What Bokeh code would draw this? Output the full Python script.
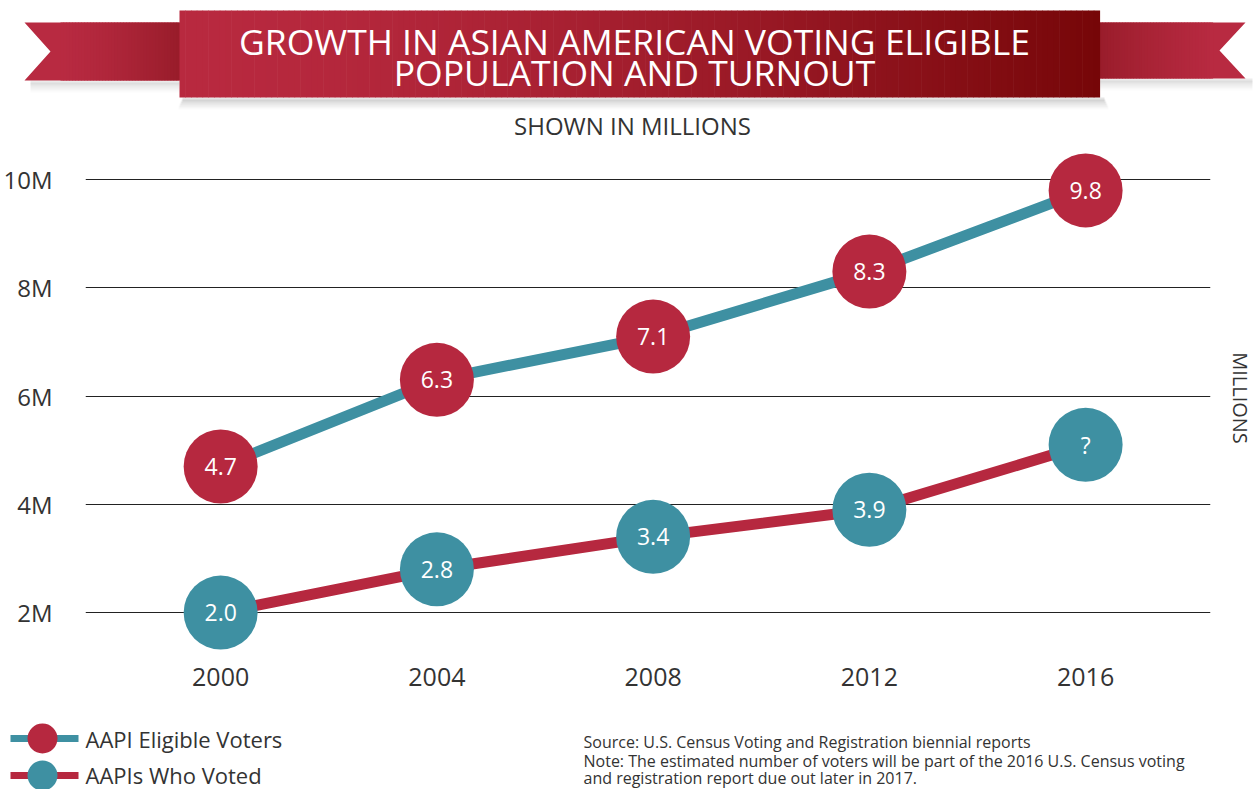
from bokeh.plotting import figure
from bokeh.layouts import column
from bokeh.models import Range1d, FixedTicker, LinearAxis, ColumnDataSource
from bokeh.core.properties import value
from bokeh.embed import file_html
from bokeh.resources import INLINE

# ---------------- data ----------------
years = [2000, 2004, 2008, 2012, 2016]
eligible = [4.7, 6.3, 7.1, 8.3, 9.8]
eligible_labels = ["4.7", "6.3", "7.1", "8.3", "9.8"]
voted = [2.0, 2.8, 3.4, 3.9, 5.1]          # 2016 value not yet published: drawn at ~5.1
voted_labels = ["2.0", "2.8", "3.4", "3.9", "?"]
y_ticks = [2, 4, 6, 8, 10]
y_tick_labels = ["2M", "4M", "6M", "8M", "10M"]
title_lines = ["GROWTH IN ASIAN AMERICAN VOTING ELIGIBLE", "POPULATION AND TURNOUT"]
subtitle = "SHOWN IN MILLIONS"
legend_labels = ["AAPI Eligible Voters", "AAPIs Who Voted"]
notes = ["Source: U.S. Census Voting and Registration biennial reports",
         "Note: The estimated number of voters will be part of the 2016 U.S. Census voting",
         "and registration report due out later in 2017."]

CRIMSON = "#b6283f"
TEAL = "#3e90a2"
DARK = "#760608"
TEXT = "#333333"
FONT = value("Open Sans")
W = 1258


def hex2rgb(h):
    h = h.lstrip("#")
    return tuple(int(h[i:i + 2], 16) for i in (0, 2, 4))


def lerp(c1, c2, t):
    a, b = hex2rgb(c1), hex2rgb(c2)
    return "#%02x%02x%02x" % tuple(int(round(a[i] + (b[i] - a[i]) * t)) for i in range(3))


def gradient_strips(p, x0, x1, y0, y1, c0, c1, n, power=1.0):
    lefts, rights, cols = [], [], []
    for i in range(n):
        a = x0 + (x1 - x0) * i / n
        b = x0 + (x1 - x0) * (i + 1) / n + 0.6
        t = ((i + 0.5) / n) ** power
        lefts.append(a)
        rights.append(b)
        cols.append(lerp(c0, c1, t))
    p.quad(left=lefts, right=rights, top=[y0] * n, bottom=[y1] * n, fill_color=cols, line_color=None)


def no_align(fig):
    try:
        fig.frame_align = False
    except Exception:
        pass


# ---------------- top banner figure (picture coordinates) ----------------
top = figure(width=W, height=145, x_range=Range1d(0, W), y_range=Range1d(145, 0),
             output_backend="svg", toolbar_location=None, min_border=0)
no_align(top)
top.axis.visible = False
top.grid.visible = False
top.outline_line_color = None

# soft shadows
for k, a in enumerate([0.10, 0.07, 0.05, 0.035, 0.02]):
    top.quad(left=[182 - k], right=[1104 + k], top=[97 + 2 * k], bottom=[99 + 2 * k + 2],
             fill_color="#000000", fill_alpha=a, line_color=None)
    top.quad(left=[30], right=[179], top=[80 + 2 * k], bottom=[82 + 2 * k + 2],
             fill_color="#000000", fill_alpha=a * 0.8, line_color=None)
    top.quad(left=[1099], right=[1252], top=[78 + 2 * k], bottom=[80 + 2 * k + 2],
             fill_color="#000000", fill_alpha=a * 0.8, line_color=None)

# left tail
top.patch([24, 179, 179, 24, 50], [22, 22, 80, 80, 51], fill_color="#b82a41", line_color=None)
gradient_strips(top, 60, 179, 22, 80, "#b82a41", "#981c2a", 40, 1.4)
# right tail
top.patch([1099, 1245, 1219, 1245, 1099], [22, 22, 50, 78, 78], fill_color="#b82a41", line_color=None)
gradient_strips(top, 1099, 1212, 22, 78, "#981c2a", "#b82a41", 40, 0.8)
# main banner
gradient_strips(top, 179, 1099, 10, 97, "#b8293f", DARK, 160, 1.6)

top.text(x=[634, 634], y=[40, 71], text=title_lines, text_color="white", text_font=FONT,
         text_font_size="35.5px", text_align="center", text_baseline="middle")
top.text(x=[632], y=[125], text=[subtitle], text_color=TEXT, text_font=FONT,
         text_font_size="24px", text_align="center", text_baseline="middle")

# ---------------- main chart ----------------
p = figure(width=W, height=555, x_range=Range1d(1997.50, 2018.31), y_range=Range1d(1.30, 10.63),
           output_backend="svg", toolbar_location=None,
           min_border_left=85, min_border_right=48, min_border_top=0, min_border_bottom=50)
no_align(p)
p.outline_line_color = None
p.xgrid.visible = False
p.ygrid.grid_line_color = "#222222"
p.ygrid.grid_line_width = 1

p.yaxis.ticker = FixedTicker(ticks=y_ticks)
p.yaxis.major_label_overrides = dict(zip(y_ticks, y_tick_labels))
p.yaxis.major_label_text_font_size = "24px"
p.yaxis.major_label_text_font = "Open Sans"
p.yaxis.major_label_text_color = TEXT
p.yaxis.major_label_standoff = 27
p.yaxis.axis_line_color = None
p.yaxis.major_tick_line_color = None
p.yaxis.minor_tick_line_color = None

p.xaxis.ticker = FixedTicker(ticks=years)
p.xaxis.major_label_text_font_size = "25px"
p.xaxis.major_label_text_font = "Open Sans"
p.xaxis.major_label_text_color = TEXT
p.xaxis.major_label_standoff = 11
p.xaxis.axis_line_color = None
p.xaxis.major_tick_line_color = None
p.xaxis.minor_tick_line_color = None

right_axis = LinearAxis(ticker=FixedTicker(ticks=[]), axis_label="MILLIONS",
                        axis_label_text_font_size="20px", axis_label_text_font="Open Sans",
                        axis_label_text_font_style="normal", axis_label_text_color=TEXT,
                        axis_label_standoff=16, axis_line_color=None,
                        major_label_standoff=0, major_tick_out=0, minor_tick_out=0,
                        major_label_text_font_size="0px",
                        major_tick_line_color=None, minor_tick_line_color=None)
p.add_layout(right_axis, "right")

src_e = ColumnDataSource(dict(x=years, y=eligible, t=eligible_labels))
src_v = ColumnDataSource(dict(x=years, y=voted, t=voted_labels))

p.line("x", "y", source=src_e, line_color=TEAL, line_width=11)
p.line("x", "y", source=src_v, line_color=CRIMSON, line_width=11)
p.scatter("x", "y", source=src_e, size=74, fill_color=CRIMSON, line_color=None)
p.scatter("x", "y", source=src_v, size=74, fill_color=TEAL, line_color=None)
p.text("x", "y", text="t", source=src_e, text_color="white", text_font=FONT,
       text_font_size="23px", text_align="center", text_baseline="middle")
p.text("x", "y", text="t", source=src_v, text_color="white", text_font=FONT,
       text_font_size="23px", text_align="center", text_baseline="middle")

# ---------------- bottom: legend + notes (picture coordinates) ----------------
bot = figure(width=W, height=89, x_range=Range1d(0, W), y_range=Range1d(789, 700),
             output_backend="svg", toolbar_location=None, min_border=0)
no_align(bot)
bot.axis.visible = False
bot.grid.visible = False
bot.outline_line_color = None

bot.segment(x0=[10, 10], y0=[738, 775], x1=[78, 78], y1=[738, 775],
            line_color=[TEAL, CRIMSON], line_width=7)
bot.scatter(x=[42, 42], y=[738, 775], size=30, fill_color=[CRIMSON, TEAL], line_color=None)
bot.text(x=[85, 85], y=[738, 774], text=legend_labels, text_color=TEXT, text_font=FONT,
         text_font_size="22px", text_align="left", text_baseline="middle")
bot.text(x=[583, 583, 583], y=[741, 760, 777], text=notes, text_color=TEXT,
         text_font=FONT, text_font_size="16px", text_align="left", text_baseline="middle")

layout = column(top, p, bot, spacing=0)
open("out.html", "w").write(file_html(layout, INLINE))
